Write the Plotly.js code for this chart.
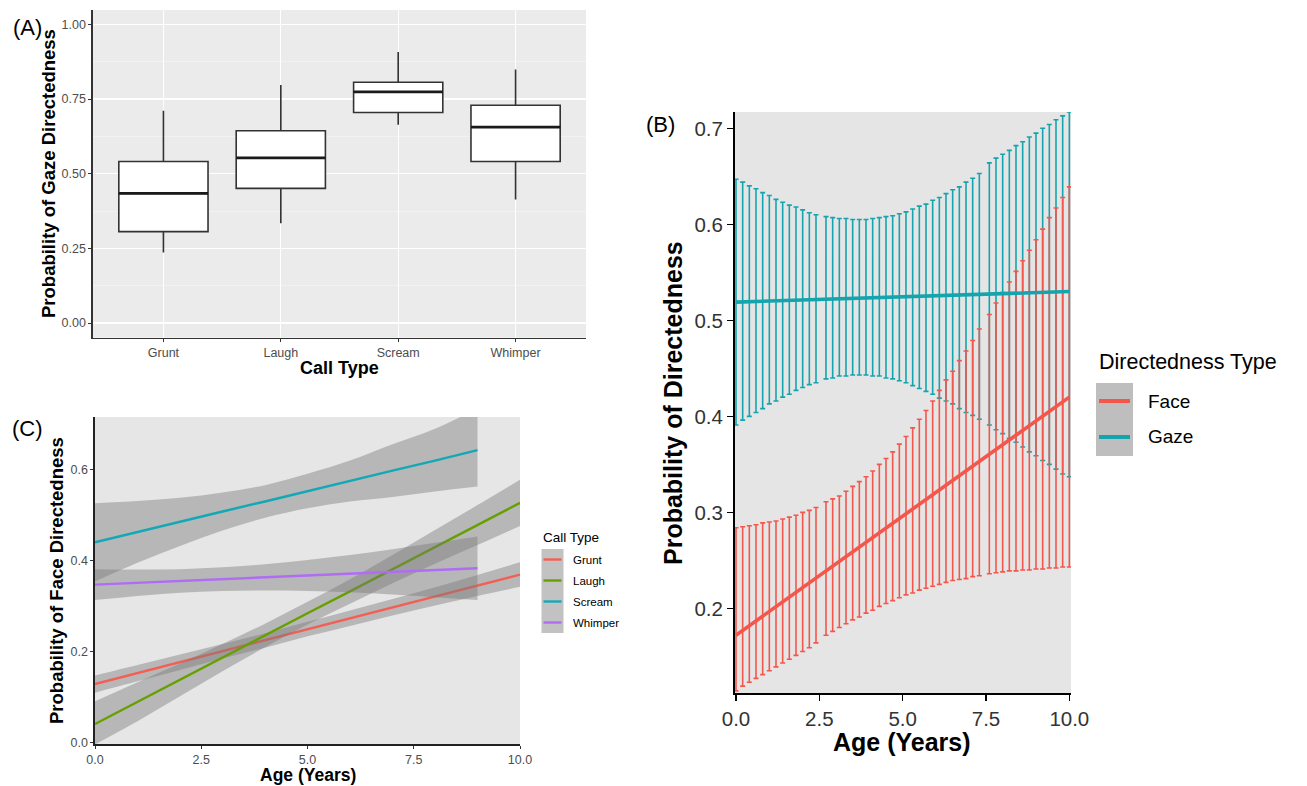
<!DOCTYPE html>
<html>
<head>
<meta charset="utf-8">
<script src="https://cdn.plot.ly/plotly-3.0.1.min.js"></script>
<style>html,body{margin:0;padding:0;background:#fff}#chart{width:1307px;height:786px}</style>
</head>
<body>
<div id="chart"></div>
<script>
// ---------- Panel A data: gaze directedness by call type ----------
const CALL_TYPES = ['Grunt', 'Laugh', 'Scream', 'Whimper'];
const BOX_LOWER  = [0.236, 0.334, 0.664, 0.414];
const BOX_Q1     = [0.306, 0.451, 0.705, 0.541];
const BOX_MEDIAN = [0.434, 0.553, 0.774, 0.656];
const BOX_Q3     = [0.541, 0.644, 0.806, 0.729];
const BOX_UPPER  = [0.711, 0.797, 0.907, 0.849];

// ---------- Panel B data: directedness by age ----------
const AGE_B = [0, 0.2, 0.4, 0.6, 0.8, 1.0, 1.2, 1.4, 1.6, 1.8, 2.0, 2.2, 2.4,
  2.7, 2.9, 3.1, 3.3, 3.5, 3.7, 3.9, 4.1, 4.3, 4.5, 4.7, 4.9, 5.1, 5.3, 5.5, 5.7, 5.9, 6.1, 6.3, 6.5, 6.7, 6.9, 7.1, 7.3,
  7.6, 7.8, 8.0, 8.2, 8.4, 8.6, 8.8, 9.0, 9.2, 9.4, 9.6, 9.8, 10.0];
const GAZE_UPPER = [0.647, 0.644, 0.640, 0.637, 0.633, 0.630, 0.626, 0.623, 0.620, 0.618, 0.615, 0.612, 0.610,
  0.608, 0.607, 0.606, 0.606, 0.605, 0.605, 0.605, 0.606, 0.607, 0.608, 0.609, 0.611, 0.613, 0.616, 0.619, 0.621, 0.625, 0.628, 0.632, 0.636, 0.639, 0.644, 0.648, 0.653,
  0.664, 0.669, 0.673, 0.677, 0.682, 0.686, 0.691, 0.695, 0.700, 0.704, 0.709, 0.713, 0.717];
const GAZE_LOWER = [0.391, 0.396, 0.400, 0.404, 0.408, 0.413, 0.416, 0.420, 0.423, 0.427, 0.430, 0.433, 0.435,
  0.439, 0.440, 0.442, 0.442, 0.443, 0.443, 0.443, 0.442, 0.442, 0.440, 0.439, 0.437, 0.435, 0.432, 0.429, 0.426, 0.423, 0.419, 0.416, 0.413, 0.408, 0.404, 0.401, 0.397,
  0.391, 0.386, 0.382, 0.377, 0.373, 0.368, 0.363, 0.359, 0.354, 0.350, 0.345, 0.340, 0.337];
const FACE_UPPER = [0.284, 0.285, 0.286, 0.287, 0.289, 0.290, 0.291, 0.293, 0.295, 0.297, 0.300, 0.302, 0.305,
  0.311, 0.314, 0.317, 0.322, 0.327, 0.332, 0.337, 0.343, 0.350, 0.356, 0.363, 0.371, 0.379, 0.388, 0.397, 0.406, 0.416, 0.427, 0.438, 0.447, 0.458, 0.468, 0.479, 0.491,
  0.506, 0.518, 0.529, 0.540, 0.551, 0.562, 0.573, 0.584, 0.595, 0.607, 0.617, 0.628, 0.639];
const FACE_LOWER = [0.114, 0.119, 0.123, 0.127, 0.131, 0.135, 0.139, 0.143, 0.147, 0.151, 0.155, 0.159, 0.164,
  0.172, 0.176, 0.180, 0.184, 0.188, 0.191, 0.195, 0.198, 0.202, 0.205, 0.208, 0.211, 0.214, 0.216, 0.219, 0.221, 0.223, 0.225, 0.227, 0.229, 0.230, 0.231, 0.233, 0.234,
  0.236, 0.237, 0.238, 0.239, 0.239, 0.240, 0.240, 0.241, 0.241, 0.242, 0.242, 0.243, 0.243];
const FIT_AGE_B = [0, 10];
const GAZE_FIT = [0.519, 0.530];
const FACE_FIT = [0.172, 0.420];
const DIR_TYPES = ['Face', 'Gaze'];

// ---------- Panel C data: face directedness by age and call type ----------
const AGE_C_FULL  = [0, 1, 2, 3, 4, 5, 6, 7, 8, 9, 10];
const AGE_C_SHORT = [0, 1, 2, 3, 4, 5, 6, 7, 8, 9];
const GRUNT_FIT = [0.128, 0.152, 0.176, 0.200, 0.224, 0.249, 0.273, 0.297, 0.321, 0.345, 0.369];
const GRUNT_LO  = [0.109, 0.134, 0.159, 0.184, 0.208, 0.233, 0.256, 0.279, 0.301, 0.322, 0.342];
const GRUNT_HI  = [0.147, 0.170, 0.193, 0.216, 0.240, 0.265, 0.290, 0.315, 0.341, 0.368, 0.396];
const LAUGH_FIT = [0.040, 0.089, 0.137, 0.186, 0.235, 0.284, 0.332, 0.381, 0.430, 0.478, 0.527];
const LAUGH_LO  = [-0.005, 0.046, 0.101, 0.156, 0.209, 0.259, 0.305, 0.350, 0.393, 0.434, 0.476];
const LAUGH_HI  = [0.090, 0.132, 0.173, 0.216, 0.261, 0.309, 0.359, 0.412, 0.467, 0.522, 0.578];
const SCREAM_FIT = [0.440, 0.463, 0.485, 0.508, 0.530, 0.553, 0.575, 0.598, 0.620, 0.643];
const SCREAM_LO  = [0.354, 0.395, 0.432, 0.466, 0.494, 0.515, 0.530, 0.540, 0.552, 0.563];
const SCREAM_HI  = [0.526, 0.531, 0.538, 0.550, 0.566, 0.591, 0.620, 0.656, 0.690, 0.735];
const WHIMPER_FIT = [0.347, 0.351, 0.355, 0.359, 0.363, 0.367, 0.371, 0.375, 0.379, 0.383];
const WHIMPER_LO  = [0.313, 0.322, 0.329, 0.333, 0.334, 0.333, 0.330, 0.325, 0.319, 0.313];
const WHIMPER_HI  = [0.381, 0.380, 0.381, 0.385, 0.392, 0.401, 0.412, 0.425, 0.439, 0.453];

// ---------- styles ----------
const FONT = 'Liberation Sans, Arial, Helvetica, sans-serif';
const FACE_COLOR = '#F4564B';
const GAZE_COLOR = '#14A4AE';
const C_COLORS = {Grunt: '#F25F55', Laugh: '#66A000', Scream: '#12A8B6', Whimper: '#B06CF5'};
const BAND_FILL = 'rgba(120,120,120,0.42)';
const W = 1307, H = 786;
const px = v => v / W;
const py = v => 1 - v / H;

const traces = [];

// Panel A
const catPos = CALL_TYPES.map((_, i) => i);
traces.push({
  type: 'box', x: catPos, q1: BOX_Q1, median: BOX_MEDIAN, q3: BOX_Q3,
  lowerfence: BOX_LOWER, upperfence: BOX_UPPER,
  width: 0.76, whiskerwidth: 0, boxpoints: false,
  fillcolor: '#FFFFFF', line: {color: '#333333', width: 1.6},
  xaxis: 'x', yaxis: 'y', hoverinfo: 'skip', showlegend: false
});
const medX = [], medY = [];
catPos.forEach((p, i) => { medX.push(p - 0.38, p + 0.38, null); medY.push(BOX_MEDIAN[i], BOX_MEDIAN[i], null); });
traces.push({type: 'scatter', mode: 'lines', x: medX, y: medY, line: {color: '#1a1a1a', width: 2.6},
  xaxis: 'x', yaxis: 'y', hoverinfo: 'skip', showlegend: false});

// Panel B error bars (gaze first, face over it)
function ciTrace(lower, upper, color) {
  return {
    type: 'scatter', mode: 'markers', x: AGE_B, y: lower,
    marker: {size: 1, color: 'rgba(0,0,0,0)'},
    error_y: {type: 'data', symmetric: false,
      array: upper.map((u, i) => u - lower[i]), arrayminus: lower.map(() => 0),
      color: color, thickness: 1.6, width: 2.5},
    xaxis: 'x2', yaxis: 'y2', hoverinfo: 'skip', showlegend: false
  };
}
traces.push(ciTrace(GAZE_LOWER, GAZE_UPPER, GAZE_COLOR));
traces.push(ciTrace(FACE_LOWER, FACE_UPPER, FACE_COLOR));
traces.push({type: 'scatter', mode: 'lines', x: FIT_AGE_B, y: GAZE_FIT, line: {color: GAZE_COLOR, width: 3.6},
  xaxis: 'x2', yaxis: 'y2', showlegend: false});
traces.push({type: 'scatter', mode: 'lines', x: FIT_AGE_B, y: FACE_FIT, line: {color: FACE_COLOR, width: 3.6},
  xaxis: 'x2', yaxis: 'y2', showlegend: false});

// Panel C smooths
const C_SERIES = [
  {name: 'Grunt', x: AGE_C_FULL, fit: GRUNT_FIT, lo: GRUNT_LO, hi: GRUNT_HI},
  {name: 'Laugh', x: AGE_C_FULL, fit: LAUGH_FIT, lo: LAUGH_LO, hi: LAUGH_HI},
  {name: 'Scream', x: AGE_C_SHORT, fit: SCREAM_FIT, lo: SCREAM_LO, hi: SCREAM_HI},
  {name: 'Whimper', x: AGE_C_SHORT, fit: WHIMPER_FIT, lo: WHIMPER_LO, hi: WHIMPER_HI}
];
C_SERIES.forEach(s => {
  traces.push({type: 'scatter', mode: 'lines', x: s.x, y: s.lo, line: {width: 0, shape: 'spline'},
    xaxis: 'x3', yaxis: 'y3', hoverinfo: 'skip', showlegend: false});
  traces.push({type: 'scatter', mode: 'lines', x: s.x, y: s.hi, line: {width: 0, shape: 'spline'},
    fill: 'tonexty', fillcolor: BAND_FILL, xaxis: 'x3', yaxis: 'y3', hoverinfo: 'skip', showlegend: false});
  traces.push({type: 'scatter', mode: 'lines', x: s.x, y: s.fit, line: {width: 2.4, color: C_COLORS[s.name]},
    xaxis: 'x3', yaxis: 'y3', name: s.name, showlegend: false});
});

// ---------- layout ----------
const baseAxis = {zeroline: false, fixedrange: true, showline: true, ticks: 'outside'};
const layout = {
  width: W, height: H, margin: {l: 0, r: 0, t: 0, b: 0},
  paper_bgcolor: '#FFFFFF', plot_bgcolor: '#EBEBEB',
  font: {family: FONT, color: '#000'},
  showlegend: false,
  xaxis: Object.assign({}, baseAxis, {
    domain: [px(93), px(586)], anchor: 'y', range: [-0.6, 3.6],
    tickvals: catPos, ticktext: CALL_TYPES,
    showgrid: true, gridcolor: '#FFFFFF', gridwidth: 1.2,
    linecolor: '#333', linewidth: 1.6, ticklen: 3, tickcolor: '#333',
    tickfont: {size: 12.5, color: '#4D4D4D', family: FONT}
  }),
  yaxis: Object.assign({}, baseAxis, {
    domain: [py(337.7), py(10)], anchor: 'x', range: [-0.049, 1.048],
    tickvals: [0, 0.25, 0.5, 0.75, 1], tickformat: '.2f',
    showgrid: true, gridcolor: '#FFFFFF', gridwidth: 1.2,
    minor: {tickvals: [0.125, 0.375, 0.625, 0.875], showgrid: true, gridcolor: '#F6F6F6', gridwidth: 0.6, ticks: ''},
    linecolor: '#333', linewidth: 1.6, ticklen: 3, tickcolor: '#333',
    tickfont: {size: 12.5, color: '#4D4D4D', family: FONT}
  }),
  xaxis2: Object.assign({}, baseAxis, {
    domain: [px(735), px(1071)], anchor: 'y2', range: [-0.03, 10.05],
    tickvals: [0, 2.5, 5, 7.5, 10], tickformat: '.1f', showgrid: false,
    linecolor: '#000', linewidth: 2, ticklen: 6, tickwidth: 1.5, tickcolor: '#000',
    tickfont: {size: 20.5, color: '#333', family: FONT}
  }),
  yaxis2: Object.assign({}, baseAxis, {
    domain: [py(693.3), py(112)], anchor: 'x2', range: [0.1115, 0.717],
    tickvals: [0.2, 0.3, 0.4, 0.5, 0.6, 0.7], tickformat: '.1f', showgrid: false,
    linecolor: '#000', linewidth: 2, ticklen: 6, tickwidth: 1.5, tickcolor: '#000',
    tickfont: {size: 20.5, color: '#333', family: FONT}
  }),
  xaxis3: Object.assign({}, baseAxis, {
    domain: [px(95), px(520)], anchor: 'y3', range: [0, 10],
    tickvals: [0, 2.5, 5, 7.5, 10], tickformat: '.1f', showgrid: false,
    linecolor: '#222', linewidth: 1.6, ticklen: 3, tickcolor: '#333',
    tickfont: {size: 12.5, color: '#4D4D4D', family: FONT}
  }),
  yaxis3: Object.assign({}, baseAxis, {
    domain: [py(744), py(417)], anchor: 'x3', range: [-0.004, 0.716],
    tickvals: [0, 0.2, 0.4, 0.6], tickformat: '.1f', showgrid: false,
    linecolor: '#222', linewidth: 1.6, ticklen: 3, tickcolor: '#333',
    tickfont: {size: 12.5, color: '#4D4D4D', family: FONT}
  }),
  shapes: [
    {type: 'rect', xref: 'x2 domain', yref: 'y2 domain', x0: 0, x1: 1, y0: 0, y1: 1,
      fillcolor: '#E5E5E5', line: {width: 0}, layer: 'below'},
    {type: 'rect', xref: 'x3 domain', yref: 'y3 domain', x0: 0, x1: 1, y0: 0, y1: 1,
      fillcolor: '#E6E6E6', line: {width: 0}, layer: 'below'},
    // legend B key box
    {type: 'rect', xref: 'paper', yref: 'paper', x0: px(1096), x1: px(1133), y0: py(456), y1: py(383),
      fillcolor: '#BEBEBE', line: {width: 0}},
    // legend C key box
    {type: 'rect', xref: 'paper', yref: 'paper', x0: px(541.5), x1: px(563.5), y0: py(633), y1: py(549),
      fillcolor: '#C2C2C2', line: {width: 0}}
  ],
  annotations: []
};

// legend B keys
const legBColors = {Face: FACE_COLOR, Gaze: GAZE_COLOR};
DIR_TYPES.forEach((name, i) => {
  const yy = 401 + i * 36;
  layout.shapes.push({type: 'line', xref: 'paper', yref: 'paper', x0: px(1099), x1: px(1130), y0: py(yy), y1: py(yy),
    line: {color: legBColors[name], width: 4}});
  layout.annotations.push({text: name, xref: 'paper', yref: 'paper', x: px(1146), y: py(yy),
    xanchor: 'left', yanchor: 'middle', showarrow: false, font: {size: 19, color: '#000', family: FONT}});
});
// legend C keys
C_SERIES.forEach((s, i) => {
  const yy = 559.5 + i * 21;
  layout.shapes.push({type: 'line', xref: 'paper', yref: 'paper', x0: px(543.5), x1: px(561.5), y0: py(yy), y1: py(yy),
    line: {color: C_COLORS[s.name], width: 2.4}});
  layout.annotations.push({text: s.name, xref: 'paper', yref: 'paper', x: px(571), y: py(yy),
    xanchor: 'left', yanchor: 'middle', showarrow: false, font: {size: 11.5, color: '#000', family: FONT}});
});

function ann(text, x, y, size, opts) {
  layout.annotations.push(Object.assign({text: text, xref: 'paper', yref: 'paper', x: px(x), y: py(y),
    xanchor: 'center', yanchor: 'middle', showarrow: false, font: {size: size, color: '#000', family: FONT}}, opts || {}));
}
ann('(A)', 27, 27, 22);
ann('(B)', 660, 125, 22);
ann('(C)', 27, 428, 22);
ann('<b>Probability of Gaze Directedness</b>', 48, 174, 18.5, {textangle: -90});
ann('<b>Call Type</b>', 339.5, 368, 18);
ann('<b>Probability of Directedness</b>', 673, 403, 25, {textangle: -90});
ann('<b>Age (Years)</b>', 902, 742, 25);
ann('<b>Probability of Face Directedness</b>', 56, 581, 18.5, {textangle: -90});
ann('<b>Age (Years)</b>', 307.5, 775, 17.5);
ann('Directedness Type', 1097, 362, 21.5, {xanchor: 'left'});
ann('Call Type', 541, 537, 13.5, {xanchor: 'left'});

Plotly.newPlot('chart', traces, layout, {displayModeBar: false, staticPlot: true});
</script>
</body>
</html>
